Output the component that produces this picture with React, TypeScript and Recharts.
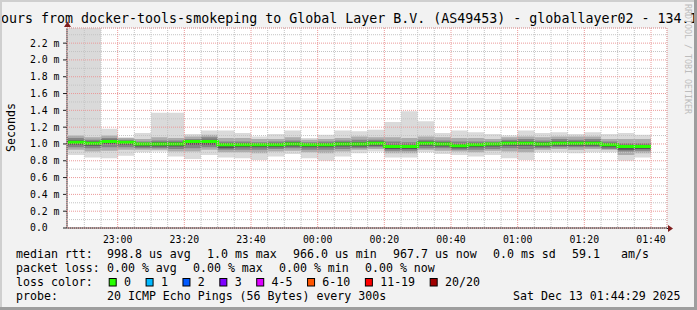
import {
  ComposedChart,
  Area,
  Line,
  XAxis,
  YAxis,
  CartesianGrid,
} from 'recharts';

const FONT = '"DejaVu Sans Mono", monospace';

// 5 minute steps (start of each interval)
const stepTimes = [
  '22:45', '22:50', '22:55', '23:00', '23:05', '23:10', '23:15', '23:20', '23:25', '23:30',
  '23:35', '23:40', '23:45', '23:50', '23:55', '00:00', '00:05', '00:10', '00:15', '00:20',
  '00:25', '00:30', '00:35', '00:40', '00:45', '00:50', '00:55', '01:00', '01:05', '01:10',
  '01:15', '01:20', '01:25', '01:30', '01:35',
];

// rtt in ms
const rttMedian = [
  1.02, 1.01, 1.03, 1.02, 1.0, 1.0, 1.0, 1.03, 1.03, 0.99,
  0.99, 0.99, 0.99, 1.0, 0.99, 0.99, 1.0, 1.0, 1.01, 0.97,
  0.97, 1.01, 1.0, 0.98, 0.99, 1.0, 1.01, 1.01, 1.0, 1.01,
  1.01, 1.01, 0.99, 0.97, 0.97,
];
const rttMax = [
  2.45, 2.45, 1.18, 1.08, 1.13, 1.37, 1.37, 1.12, 1.16, 1.16,
  1.13, 1.09, 1.12, 1.16, 1.07, 1.11, 1.16, 1.15, 1.17, 1.26,
  1.39, 1.27, 1.13, 1.16, 1.14, 1.12, 1.1, 1.16, 1.13, 1.14,
  1.12, 1.14, 1.12, 1.13, 1.11,
];
const rttMin = [
  0.87, 0.84, 0.83, 0.86, 0.9, 0.91, 0.85, 0.82, 0.87, 0.84,
  0.83, 0.81, 0.85, 0.88, 0.83, 0.8, 0.85, 0.89, 0.91, 0.84,
  0.84, 0.9, 0.88, 0.87, 0.85, 0.87, 0.83, 0.81, 0.9, 0.9,
  0.89, 0.9, 0.9, 0.8, 0.84,
];
const smokeHi2 = [
  1.1, 1.08, 1.1, 1.07, 1.06, 1.08, 1.07, 1.09, 1.11, 1.07,
  1.07, 1.06, 1.06, 1.08, 1.05, 1.06, 1.07, 1.09, 1.08, 1.08,
  1.07, 1.09, 1.08, 1.07, 1.07, 1.06, 1.08, 1.09, 1.08, 1.09,
  1.09, 1.09, 1.06, 1.06, 1.06,
];
const smokeHi3 = [
  1.07, 1.05, 1.07, 1.05, 1.03, 1.04, 1.04, 1.06, 1.08, 1.03,
  1.03, 1.02, 1.03, 1.04, 1.02, 1.03, 1.04, 1.05, 1.05, 1.03,
  1.02, 1.05, 1.04, 1.03, 1.03, 1.03, 1.05, 1.06, 1.04, 1.06,
  1.05, 1.06, 1.03, 1.01, 1.01,
];
const smokeHi4 = [
  1.04, 1.03, 1.05, 1.03, 1.01, 1.02, 1.02, 1.04, 1.05, 1.01,
  1.01, 1.0, 1.01, 1.02, 1.0, 1.01, 1.02, 1.02, 1.03, 0.99,
  0.99, 1.03, 1.02, 1.0, 1.01, 1.01, 1.03, 1.03, 1.02, 1.03,
  1.03, 1.03, 1.01, 0.99, 0.99,
];
const smokeLo4 = [
  0.99, 0.98, 1.0, 0.99, 0.97, 0.97, 0.97, 0.99, 0.99, 0.95,
  0.96, 0.96, 0.96, 0.97, 0.96, 0.96, 0.97, 0.97, 0.98, 0.94,
  0.94, 0.98, 0.97, 0.95, 0.96, 0.97, 0.98, 0.98, 0.97, 0.98,
  0.98, 0.98, 0.96, 0.93, 0.94,
];
const smokeLo3 = [
  0.96, 0.95, 0.96, 0.96, 0.95, 0.95, 0.94, 0.95, 0.96, 0.93,
  0.93, 0.93, 0.94, 0.95, 0.93, 0.93, 0.94, 0.95, 0.96, 0.92,
  0.92, 0.95, 0.95, 0.93, 0.93, 0.94, 0.95, 0.94, 0.95, 0.96,
  0.96, 0.96, 0.94, 0.91, 0.92,
];
const smokeLo2 = [
  0.93, 0.91, 0.92, 0.93, 0.93, 0.93, 0.91, 0.91, 0.93, 0.9,
  0.9, 0.89, 0.91, 0.92, 0.9, 0.89, 0.91, 0.93, 0.94, 0.89,
  0.89, 0.93, 0.92, 0.91, 0.9, 0.92, 0.91, 0.9, 0.93, 0.94,
  0.93, 0.94, 0.93, 0.87, 0.89,
];

const yTicks = [0, 0.2, 0.4, 0.6, 0.8, 1.0, 1.2, 1.4, 1.6, 1.8, 2.0, 2.2];
const xTickLabels = ['23:00', '23:20', '23:40', '00:00', '00:20', '00:40', '01:00', '01:20', '01:40'];

const lossLegend = [
  { label: '0', color: '#26ff00' },
  { label: '1', color: '#00b8ff' },
  { label: '2', color: '#0059ff' },
  { label: '3', color: '#7e00ff' },
  { label: '4-5', color: '#dd00ff' },
  { label: '6-10', color: '#ff5500' },
  { label: '11-19', color: '#ff0000' },
  { label: '20/20', color: '#a10000' },
];

const TITLE = 'ours from docker-tools-smokeping to Global Layer B.V. (AS49453) - globallayer02 - 134.1';
const statsRtt: [string, number][] = [
  ['median rtt:', 16], ['998.8 us avg', 107], ['1.0 ms max', 207], ['966.0 us min', 293],
  ['967.7 us now', 393], ['0.0 ms sd', 493], ['59.1', 572], ['am/s', 621],
];
const statsLoss: [string, number][] = [
  ['packet loss:', 16], ['0.00 % avg', 107], ['0.00 % max', 193], ['0.00 % min', 279], ['0.00 % now', 365],
];
const probeText = '20 ICMP Echo Pings (56 Bytes) every 300s';
const dateText = 'Sat Dec 13 01:44:29 2025';

const toMinutes = (t: string) => {
  const [h, m] = t.split(':').map(Number);
  return (h < 12 ? h + 24 : h) * 60 + m;
};

const rows = stepTimes.map((t, i) => ({
  t: toMinutes(t),
  band1: [rttMin[i], rttMax[i]],
  band2: [smokeLo2[i], smokeHi2[i]],
  band3: [smokeLo3[i], smokeHi3[i]],
  band4: [smokeLo4[i], smokeHi4[i]],
  median: rttMedian[i],
}));
rows.push({ ...rows[rows.length - 1], t: rows[rows.length - 1].t + 5 });

const X_MIN = 1364.8;
const X_MAX = 1544.8;
const Y_MAX = 2.38;

const majorX = xTickLabels.map(toMinutes);
const minorX: number[] = [];
for (let m = 1370; m < X_MAX; m += 5) if (!majorX.includes(m)) minorX.push(m);
const majorY = yTicks.filter((v) => v > 0);
const minorY: number[] = [];
for (let k = 1; k <= 23; k += 2) minorY.push(k / 10);

const W = 697;
const H = 310;
const MARGIN = { top: 28, right: 30, bottom: 62, left: 0 };
const GRID_MARGIN = { top: 28, right: 30, bottom: 82, left: 67 };

const fmtTime = (m: number) => {
  const h = Math.floor(m / 60) % 24;
  const mm = m % 60;
  return `${String(h).padStart(2, '0')}:${String(mm).padStart(2, '0')}`;
};

const YTick = (props: any) => {
  const { y, payload } = props;
  const v = payload.value as number;
  return (
    <text x={30} y={y + 3.4} fontFamily={FONT} fontSize={9.8} fill="#000">
      {v === 0 ? '0.0' : `${v.toFixed(1)} m`}
    </text>
  );
};

const XTick = (props: any) => {
  const { x, y, payload } = props;
  return (
    <text x={x} y={y + 13.3} textAnchor="middle" fontFamily={FONT} fontSize={9.8} fill="#000">
      {fmtTime(payload.value)}
    </text>
  );
};

// a transparent chart laid over the main one, only for the dotted grid (rrdtool draws grid above the data)
function GridLayer({ xs, ys, color }: { xs: number[]; ys: number[]; color: string }) {
  return (
    <ComposedChart
      width={W}
      height={H}
      data={rows}
      margin={GRID_MARGIN}
      style={{ position: 'absolute', left: 0, top: 0, pointerEvents: 'none' }}
    >
      <XAxis dataKey="t" type="number" domain={[X_MIN, X_MAX]} ticks={xs} interval={0} allowDataOverflow hide />
      <YAxis type="number" domain={[0, Y_MAX]} ticks={ys} interval={0} allowDataOverflow hide />
      <CartesianGrid stroke={color} strokeDasharray="1 1" fill="none" />
    </ComposedChart>
  );
}

const LEGEND_FONT = 11.6;
const CHAR_W = 6.98;

function Overlay() {
  let bx = 108.7;
  const boxes = lossLegend.map((item) => {
    const x = bx;
    const lx = x + 15.3;
    bx = lx + item.label.length * CHAR_W + 14.6;
    return (
      <g key={item.label}>
        <rect x={x + 0.5} y={278.5} width={7} height={7.5} fill={item.color} stroke="#000" strokeWidth={1} />
        <text x={lx} y={286} fontFamily={FONT} fontSize={LEGEND_FONT} fill="#000">
          {item.label}
        </text>
      </g>
    );
  });

  return (
    <svg width={W} height={H} style={{ position: 'absolute', left: 0, top: 0, pointerEvents: 'none' }}>
      <text x={1} y={23} fontFamily={FONT} fontSize={13.3} fill="#000">
        {TITLE}
      </text>
      <text
        x={15}
        y={127.5}
        transform="rotate(-90 15 127.5)"
        textAnchor="middle"
        fontFamily={FONT}
        fontSize={11.6}
        fill="#000"
      >
        Seconds
      </text>
      <text x={685} y={4} transform="rotate(90 685 4)" fontFamily={FONT} fontSize={8.3} fill="#bdbdbd">
        RRDTOOL / TOBI OETIKER
      </text>
      {statsRtt.map(([s, x]) => (
        <text key={s} x={x} y={258} fontFamily={FONT} fontSize={LEGEND_FONT} fill="#000">
          {s}
        </text>
      ))}
      {statsLoss.map(([s, x]) => (
        <text key={s} x={x} y={272} fontFamily={FONT} fontSize={LEGEND_FONT} fill="#000">
          {s}
        </text>
      ))}
      <text x={16} y={286} fontFamily={FONT} fontSize={LEGEND_FONT} fill="#000">
        loss color:
      </text>
      {boxes}
      <text x={16} y={300} fontFamily={FONT} fontSize={LEGEND_FONT} fill="#000">
        probe:
      </text>
      <text x={107} y={300} fontFamily={FONT} fontSize={LEGEND_FONT} fill="#000">
        {probeText}
      </text>
      <text x={513} y={300} fontFamily={FONT} fontSize={LEGEND_FONT} fill="#000">
        {dateText}
      </text>
      {/* axis arrows */}
      <line x1={667} y1={228.5} x2={669} y2={228.5} stroke="#1f1f1f" />
      <polygon points="668,225 673,228.5 668,232" fill="#801f1f" />
      <polygon points="64,27 67.5,21.5 71,27" fill="#801f1f" />
      {/* rrdtool style 3d frame */}
      <rect x={0} y={0} width={W} height={2} fill="#cfcfcf" />
      <rect x={0} y={0} width={2} height={H} fill="#cfcfcf" />
      <rect x={694} y={0} width={3} height={H} fill="#9e9e9e" />
      <rect x={0} y={307} width={W} height={3} fill="#9e9e9e" />
    </svg>
  );
}

export default function App() {
  return (
    <div
      style={{
        position: 'absolute',
        left: 0,
        top: 0,
        width: W,
        height: H,
        background: '#f2f2f2',
        overflow: 'hidden',
      }}
    >
      <ComposedChart width={W} height={H} data={rows} margin={MARGIN} style={{ position: 'absolute', left: 0, top: 0 }}>
        <CartesianGrid fill="#ffffff" horizontal={false} vertical={false} stroke="none" />
        <XAxis
          dataKey="t"
          type="number"
          domain={[X_MIN, X_MAX]}
          ticks={majorX}
          interval={0}
          allowDataOverflow
          height={20}
          tickSize={0}
          tickLine={false}
          tick={<XTick />}
          axisLine={{ stroke: '#000' }}
        />
        <YAxis
          type="number"
          domain={[0, Y_MAX]}
          ticks={yTicks}
          interval={0}
          allowDataOverflow
          width={67}
          tickSize={4}
          tickLine={{ stroke: '#1f1f1f' }}
          tick={<YTick />}
          axisLine={{ stroke: '#1f1f1f' }}
        />
        <Area dataKey="band1" type="stepAfter" stroke="none" fill="#dadada" fillOpacity={1} isAnimationActive={false} />
        <Area dataKey="band2" type="stepAfter" stroke="none" fill="#acacac" fillOpacity={1} isAnimationActive={false} />
        <Area dataKey="band3" type="stepAfter" stroke="none" fill="#848484" fillOpacity={1} isAnimationActive={false} />
        <Area dataKey="band4" type="stepAfter" stroke="none" fill="#555555" fillOpacity={1} isAnimationActive={false} />
        <Line
          dataKey="median"
          type="stepAfter"
          stroke="#26ff00"
          strokeWidth={3}
          dot={false}
          isAnimationActive={false}
        />
      </ComposedChart>
      <GridLayer xs={minorX} ys={minorY} color="#c4c4c4" />
      <GridLayer xs={majorX} ys={majorY} color="#eb9999" />
      <Overlay />
    </div>
  );
}
